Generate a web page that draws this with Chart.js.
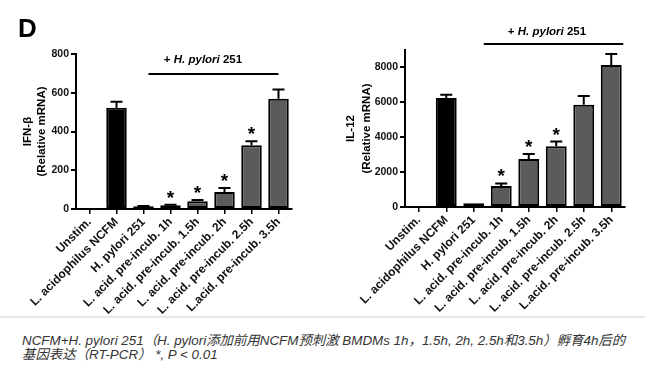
<!DOCTYPE html>
<html>
<head>
<meta charset="utf-8">
<script src="https://cdn.jsdelivr.net/npm/chart.js@4.4.1/dist/chart.umd.min.js"></script>
<style>
  html, body { margin: 0; padding: 0; background: #fff; }
  #wrap { position: relative; width: 650px; height: 367px; overflow: hidden; font-family: Arial, "Liberation Sans", sans-serif; }
  canvas { position: absolute; top: 0; }
  #panel { position: absolute; left: 18px; top: 13px; font: bold 26px Arial, "Liberation Sans", sans-serif; color: #000; }
  #sep { position: absolute; left: 0; top: 316px; width: 645px; height: 2px; background: #e6e6e6; }
  #caption { position: absolute; left: 22px; top: 334px; font: italic 13.4px "Liberation Sans", Arial, "Noto Sans CJK SC", sans-serif; color: #333; line-height: 14px; white-space: nowrap; }
</style>
</head>
<body>
<div id="wrap">
  <canvas id="ifnChart" width="325" height="316" style="left:0"></canvas>
  <canvas id="il12Chart" width="325" height="316" style="left:325px"></canvas>
  <div id="panel">D</div>
  <div id="sep"></div>
  <div id="caption">NCFM+H. pylori 251（H. pylori添加前用NCFM预刺激 BMDMs 1h，1.5h, 2h, 2.5h和3.5h）孵育4h后的<br>基因表达（RT-PCR） *, P &lt; 0.01</div>
</div>
<script>
// ---- data ----
const categories = ['Unstim.', 'L. acidophilus NCFM', 'H. pylori 251', 'L. acid. pre-incub. 1h',
  'L. acid. pre-incub. 1.5h', 'L. acid. pre-incub. 2h', 'L. acid. pre-incub. 2.5h', 'L.acid. pre-incub. 3.5h'];

const ifnValues = [4, 522, 14, 19, 40, 88, 329, 569];
const ifnErrors = [0, 31, 2, 3, 7, 21, 21, 48];
const ifnStars = [false, false, false, true, true, true, true, false];
const ifnTicks = [0, 200, 400, 600, 800];

const il12Values = [0, 6250, 220, 1210, 2750, 3480, 5865, 8135];
const il12Errors = [0, 190, 0, 140, 290, 270, 500, 635];
const il12Stars = [false, false, false, true, true, true, false, false];
const il12Ticks = [0, 2000, 4000, 6000, 8000];

const GRAY = '#5b5b5b';
const ifnColors = ['#ffffff', '#000000', GRAY, GRAY, GRAY, GRAY, GRAY, GRAY];
const il12Colors = ['#ffffff', '#000000', '#ffffff', GRAY, GRAY, GRAY, GRAY, GRAY];

const FONT = 'Arial, "Liberation Sans", sans-serif';

// error bars, stars, y title and the "+ H. pylori 251" bracket
const extrasPlugin = {
  id: 'extras',
  afterDatasetsDraw(chart, args, opts) {
    const ctx = chart.ctx;
    const x = chart.scales.x, y = chart.scales.y;
    const meta = chart.getDatasetMeta(0);
    ctx.save();
    ctx.strokeStyle = '#000';
    ctx.lineWidth = 2;
    opts.values.forEach((v, i) => {
      const cx = meta.data[i].x;
      const top = y.getPixelForValue(v + opts.errors[i]);
      if (opts.errors[i] > 0) {
        ctx.beginPath();
        ctx.moveTo(cx, y.getPixelForValue(v));
        ctx.lineTo(cx, top);
        ctx.moveTo(cx - 6, top);
        ctx.lineTo(cx + 6, top);
        ctx.stroke();
      }
      if (opts.stars[i]) {
        ctx.fillStyle = '#000';
        ctx.font = 'bold 19px ' + FONT;
        ctx.textAlign = 'center';
        ctx.textBaseline = 'alphabetic';
        ctx.fillText('*', cx, top - 1);
      }
    });

    // bracket
    const bx1 = x.getPixelForValue(2) + opts.bracketStart;
    const bx2 = x.getPixelForValue(7) + opts.bracketEnd;
    ctx.beginPath();
    ctx.moveTo(bx1, opts.bracketY);
    ctx.lineTo(bx2, opts.bracketY);
    ctx.stroke();
    const bold = 'bold 11.5px ' + FONT;
    const ital = 'italic bold 11.5px ' + FONT;
    const parts = [['+ ', bold], ['H. pylori', ital], [' 251', bold]];
    let w = 0;
    parts.forEach(p => { ctx.font = p[1]; w += ctx.measureText(p[0]).width; });
    let tx = opts.labelX - w / 2;
    ctx.textAlign = 'left';
    ctx.textBaseline = 'middle';
    ctx.fillStyle = '#000';
    parts.forEach(p => { ctx.font = p[1]; ctx.fillText(p[0], tx, opts.labelY); tx += ctx.measureText(p[0]).width; });

    // y title, two rotated lines
    const midY = (chart.chartArea.top + chart.chartArea.bottom) / 2;
    ctx.font = 'bold 11.5px ' + FONT;
    ctx.textAlign = 'center';
    ctx.textBaseline = 'middle';
    opts.yTitle.forEach((t, k) => {
      ctx.save();
      ctx.translate(opts.yTitleX[k], midY);
      ctx.rotate(-Math.PI / 2);
      ctx.fillText(t, 0, 0);
      ctx.restore();
    });
    ctx.restore();
  }
};

function makeChart(id, values, colors, tickList, max, area, extras) {
  return new Chart(document.getElementById(id), {
    type: 'bar',
    data: {
      labels: categories,
      datasets: [{
        data: values,
        backgroundColor: colors,
        borderColor: '#000',
        borderWidth: 2,
        borderSkipped: false,
        barPercentage: 0.76,
        categoryPercentage: 1
      }]
    },
    options: {
      responsive: false,
      animation: false,
      events: [],
      layout: { padding: { left: 0, top: area.top, right: 325 - area.right, bottom: 0 } },
      plugins: {
        legend: { display: false },
        tooltip: { enabled: false },
        extras: extras
      },
      scales: {
        x: {
          afterFit: s => { s.height = 316 - area.bottom; },
          border: { color: '#000', width: 2 },
          grid: { offset: false, drawOnChartArea: false, drawTicks: true, tickLength: 5, color: '#000', lineWidth: 1.5 },
          ticks: {
            color: '#111', autoSkip: false, maxRotation: 45, minRotation: 45, padding: 1,
            font: { family: FONT, weight: 'bold', size: 12 }
          }
        },
        y: {
          min: 0,
          max: max,
          afterFit: s => { s.width = area.left; },
          afterBuildTicks: s => { s.ticks = tickList.map(v => ({ value: v })); },
          border: { color: '#000', width: 2 },
          grid: { drawOnChartArea: false, drawTicks: true, tickLength: 5, color: '#000', lineWidth: 2 },
          ticks: { color: '#111', padding: 2, font: { family: FONT, weight: 'bold', size: 10.5 }, callback: v => String(v) }
        }
      }
    },
    plugins: [extrasPlugin]
  });
}

makeChart('ifnChart', ifnValues, ifnColors, ifnTicks, 800,
  { left: 76, right: 292, top: 54, bottom: 209 },
  { values: ifnValues, errors: ifnErrors, stars: ifnStars,
    bracketStart: 5, bracketEnd: 0, bracketY: 74, labelX: 203, labelY: 60,
    yTitle: ['IFN-β', '(Relative mRNA)'], yTitleX: [28, 42] });

makeChart('il12Chart', il12Values, il12Colors, il12Ticks, 9000,
  { left: 80, right: 300, top: 50, bottom: 207 },
  { values: il12Values, errors: il12Errors, stars: il12Stars,
    bracketStart: 10, bracketEnd: 12, bracketY: 44, labelX: 222, labelY: 32,
    yTitle: ['IL-12', '(Relative mRNA)'], yTitleX: [26, 42] });
</script>
</body>
</html>
